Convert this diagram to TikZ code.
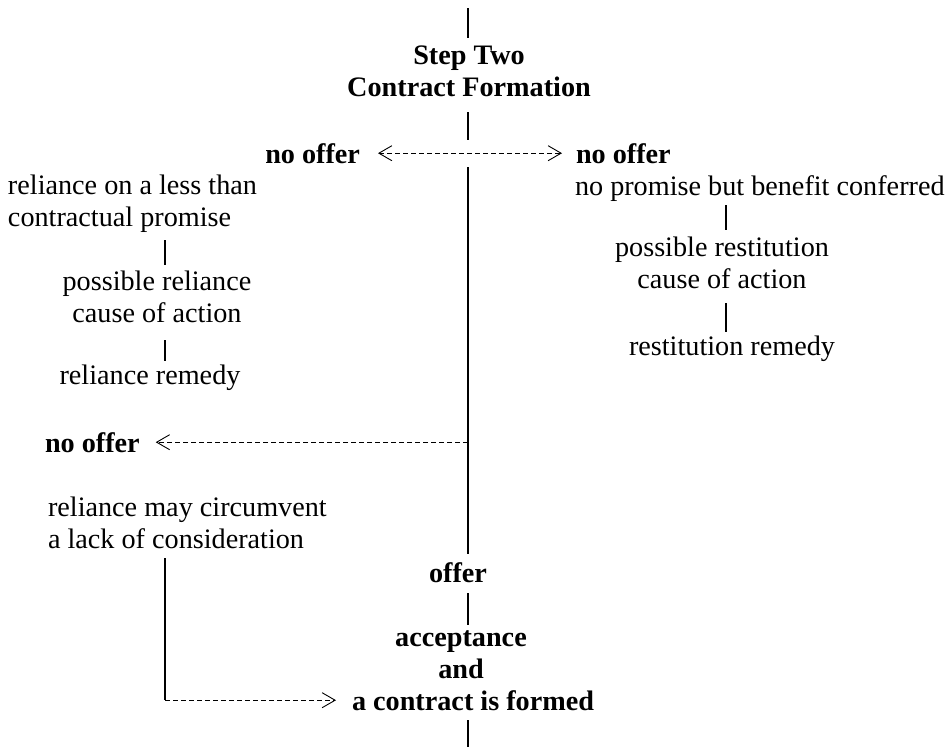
\documentclass[tikz,border=0pt]{standalone}
\usepackage{fontspec}
\setmainfont{Liberation Serif}
\usetikzlibrary{arrows.meta}
\begin{document}
\begin{tikzpicture}[x=1pt,y=-1pt,
  every node/.style={inner sep=0pt, outer sep=0pt, font=\fontsize{28.2}{31.5}\selectfont},
  bold/.style={font=\fontsize{28.2}{31.5}\selectfont\bfseries},
  link/.style={line width=1.2pt},
  dashlink/.style={line width=0.9pt, dash pattern=on 5pt off 3pt},
  barb/.tip={Straight Barb[length=13pt,width=15pt,line width=0.9pt]}
]
\useasboundingbox (0,0) rectangle (947,747);
% guide coordinates
\coordinate (mx) at (468,0);
\coordinate (lx) at (165,0);
\coordinate (rx) at (726,0);
\coordinate (top) at (468,8);
\coordinate (j1) at (468,140);
\coordinate (j2) at (468,167);
\coordinate (bottom) at (468,747);

% title (base anchor = baseline of the last line)
\node[bold, align=center, anchor=base] (title) at (469,96) {Step Two\\Contract Formation};

% first split
\node[bold, anchor=base east] (nol) at (360,163) {no offer};
\node[bold, anchor=base west] (nor) at (576,163) {no offer};

% right column
\node[anchor=base west] (rc1) at (575,195) {no promise but benefit conferred};
\node[align=center, anchor=base] (rc2) at (722,288) {possible restitution\\cause of action};
\node[anchor=base] (rc3) at (732,355) {restitution remedy};

% left column
\node[align=left, anchor=base west] (lc1) at (8,226) {reliance on a less than\\contractual promise};
\node[align=center, anchor=base] (lc2) at (157,322) {possible reliance\\cause of action};
\node[anchor=base] (lc3) at (150,384) {reliance remedy};

% second no offer
\node[bold, anchor=base west] (no2) at (45,452) {no offer};
\node[align=left, anchor=base west] (lc4) at (48,548) {reliance may circumvent\\a lack of consideration};

% bottom
\node[bold, anchor=base] (offer) at (458,582) {offer};
\node[bold, align=center, anchor=base] (acc) at (461,678) {acceptance\\and};
\node[bold, anchor=base] (formed) at (473,710) {a contract is formed};

\coordinate (j3) at (mx |- no2.east);
\coordinate (corner) at (lx |- formed.west);

% connectors
\draw[link] (top) -- ([yshift=8pt]title.north -| mx);
\draw[link, shorten <=16pt] (title.south -| mx) -- (j1);
\draw[dashlink, barb-barb] ([xshift=18pt]nol.east) -- ([xshift=-14pt]nor.west);
\draw[link, shorten >=8pt] (j2) -- (offer.north -| mx);
\draw[dashlink, -barb] (j3) -- ([xshift=16pt]no2.east);

\draw[link, shorten <=4pt, shorten >=7pt] (rc1.south -| rx) -- (rc2.north -| rx);
\draw[link, shorten <=15pt, shorten >=3pt] (rc2.south -| rx) -- (rc3.north -| rx);

\draw[link, shorten <=8pt, shorten >=6pt] (lc1.south -| lx) -- (lc2.north -| lx);
\draw[link, shorten <=18pt, shorten >=3pt] (lc2.south -| lx) -- (lc3.north -| lx);

\draw[link, shorten <=10pt] (lc4.south -| lx) -- (corner);
\draw[dashlink, -barb] (corner) -- ([xshift=-16pt]formed.west);

\draw[link, shorten <=11pt, shorten >=6pt] (offer.south -| mx) -- (acc.north -| mx);
\draw[link, shorten <=10pt] (formed.south -| mx) -- (bottom);
\end{tikzpicture}
\end{document}
